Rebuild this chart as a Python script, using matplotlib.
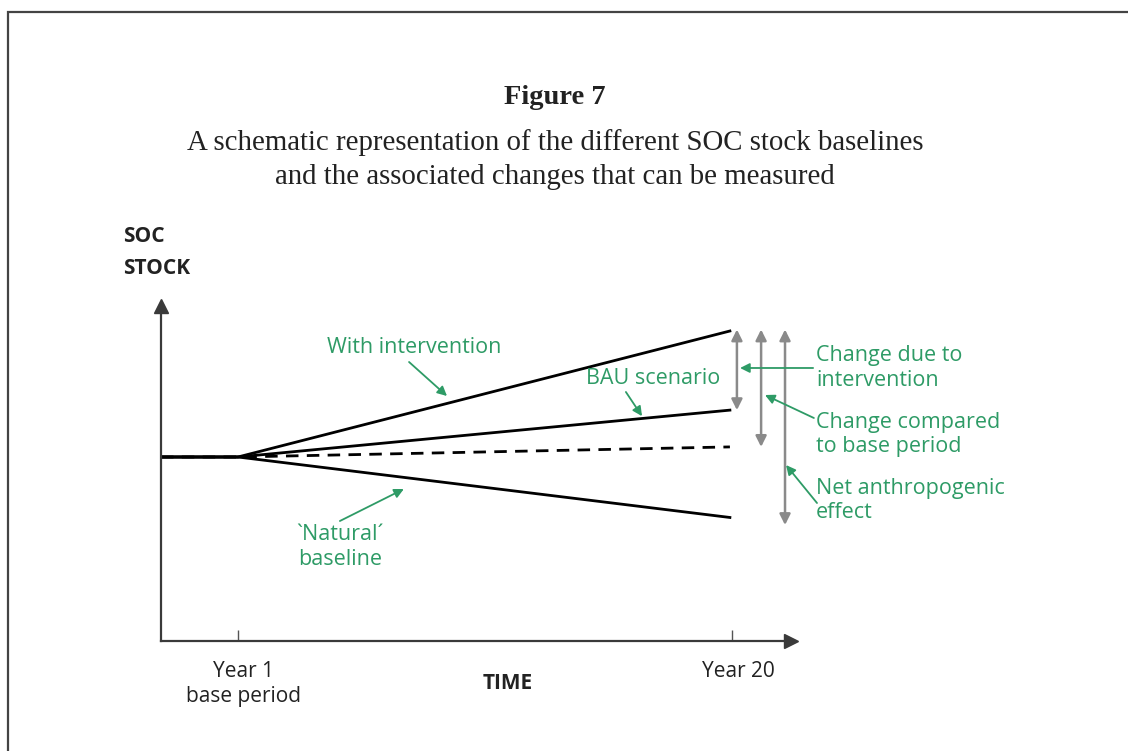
"""Schematic of SOC stock baselines (Figure 7)"""

import matplotlib
matplotlib.use("Agg")
import matplotlib.pyplot as plt
from matplotlib.patches import Rectangle
from matplotlib.transforms import ScaledTranslation

plt.rcParams["font.family"] = ["Open Sans", "DejaVu Sans"]

# Time axis (years); the first value is where the axis starts
YEARS = [-1.96, 1, 19.92]
TICK_YEARS = [1, 20]
TICK_LABELS = ["Year 1\nbase period", "Year 20"]

# SOC stock (arbitrary units)
WITH_INTERVENTION = [40, 40, 65]
BAU_SCENARIO = [40, 40, 49.3]
BASE_LEVEL = [40, 40, 42]
NATURAL_BASELINE = [40, 40, 28]

GREEN = "#2e9b66"
GREY = "#8a8a8a"
AXIS = "#3a3a3a"

fig = plt.figure(figsize=(11.28, 7.51), dpi=100)

# frame round the figure (open to the right and bottom)
fig.add_artist(Rectangle((8 / 1128, -0.2), 1.3, 1 - 12 / 751 + 0.2,
                         transform=fig.transFigure, fill=False,
                         lw=1.6, ec="#444444"))

# Titles
fig.text(555 / 1128, 1 - 97 / 751, "Figure 7", ha="center", va="center",
         family="Liberation Serif", fontweight="bold", fontsize=20.5,
         color="#222222")
fig.text(555 / 1128, 1 - 160 / 751,
         "A schematic representation of the different SOC stock baselines\n"
         "and the associated changes that can be measured",
         ha="center", va="center", family="Liberation Serif", fontsize=20.8,
         color="#222222", linespacing=1.4)

# Plot axes
ax = fig.add_axes([161 / 1128, 1 - 640.5 / 751, 630 / 1128, 334.5 / 751])
ax.set_xlim(-1.96, 22.27)
ax.set_ylim(3.59, 69.96)
for side in ["top", "right"]:
    ax.spines[side].set_visible(False)
for side in ["left", "bottom"]:
    ax.spines[side].set_color(AXIS)
    ax.spines[side].set_linewidth(1.6)
ax.plot(1, 0, ">", color=AXIS, ms=10, transform=ax.transAxes, clip_on=False)
ax.plot(0, 1, "^", color=AXIS, ms=10, transform=ax.transAxes, clip_on=False)

ax.set_yticks([])
ax.set_xticks(TICK_YEARS)
ax.set_xticklabels(TICK_LABELS, fontsize=15, color="#222222", linespacing=1.25)
ax.tick_params(axis="x", direction="in", length=8, width=1, color="#555555",
               pad=15)
for lab in ax.get_xticklabels():
    lab.set_transform(lab.get_transform()
                      + ScaledTranslation(6 / 100, 0, fig.dpi_scale_trans))

ax.set_xlabel("TIME", fontsize=15, fontweight="bold", color="#222222",
              va="center")
ax.xaxis.set_label_coords(0.551, -0.13)
ax.set_ylabel("SOC\nSTOCK", fontsize=15, fontweight="bold", color="#222222",
              rotation=0, ha="left", va="center", linespacing=1.65)
ax.yaxis.set_label_coords(-0.06, 1.16)

# Lines
ax.plot(YEARS, WITH_INTERVENTION, color="black", lw=2)
ax.plot(YEARS, BAU_SCENARIO, color="black", lw=2)
ax.plot(YEARS, BASE_LEVEL, color="black", lw=2, dashes=(4.5, 3))
ax.plot(YEARS, NATURAL_BASELINE, color="black", lw=2)

# Grey double arrows for the measured changes
end_top = WITH_INTERVENTION[-1]
for x, low in [(20.19, BAU_SCENARIO[-1]), (21.12, BASE_LEVEL[-1]),
               (22.04, NATURAL_BASELINE[-1] - 1.5)]:
    ax.annotate("", xy=(x, end_top + 0.3), xytext=(x, low),
                arrowprops=dict(arrowstyle="<|-|>", color=GREY, lw=1.8,
                                mutation_scale=16, shrinkA=0, shrinkB=0),
                annotation_clip=False)


def label(text, text_xy, tail, head, ha="center"):
    ax.text(*text_xy, text, color=GREEN, fontsize=15.5, ha=ha, va="center",
            linespacing=1.2, clip_on=False)
    ax.annotate("", xy=head, xytext=tail,
                arrowprops=dict(arrowstyle="-|>", color=GREEN, lw=1.3,
                                mutation_scale=14, shrinkA=0, shrinkB=0),
                annotation_clip=False)


label("With intervention", (7.77, 61.8), (7.58, 58.85), (9.04, 52.1))
label("BAU scenario", (16.96, 55.5), (15.92, 52.9), (16.54, 48.1))
label("`Natural´\nbaseline", (4.92, 22.14), (4.92, 27.3), (7.38, 33.65))
label("Change due to\nintervention", (23.23, 57.66), (23.12, 57.66),
      (20.31, 57.66), ha="left")
label("Change compared\nto base period", (23.23, 44.46), (23.15, 47.74),
      (21.27, 52.3), ha="left")
label("Net anthropogenic\neffect", (23.23, 31.37), (23.27, 30.87),
      (22.08, 38.4), ha="left")

fig.savefig("out.png", dpi=100)
